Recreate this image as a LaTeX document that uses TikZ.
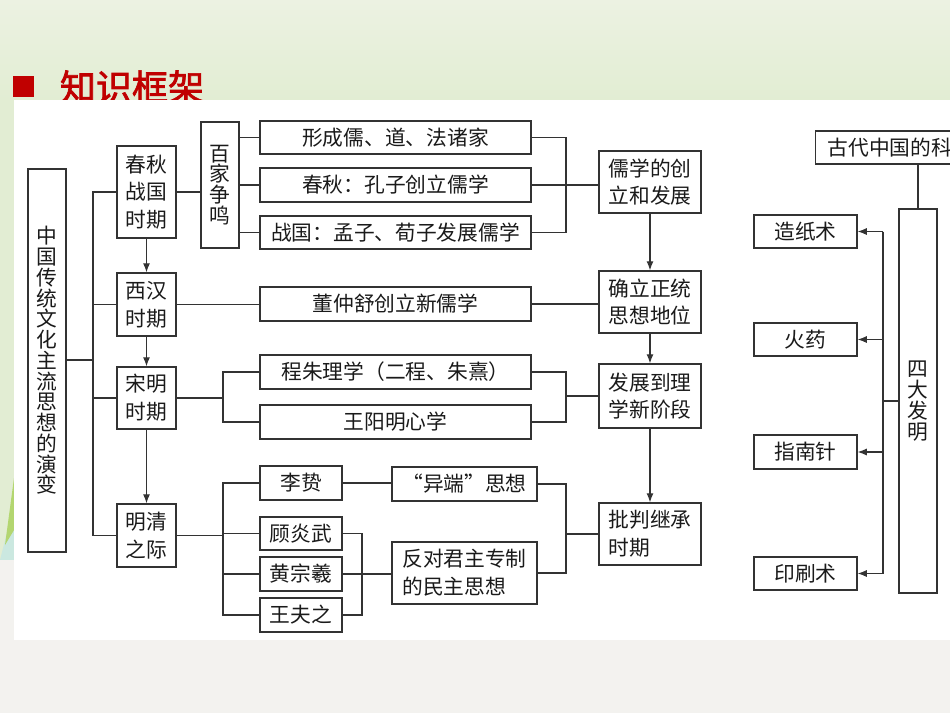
\documentclass[tikz,border=0pt]{standalone}
\usepackage{fontspec}
\newfontfamily\cjk{Noto Sans CJK SC}
\newfontfamily\cjktitle[FakeBold=2]{Noto Sans CJK SC}
\usetikzlibrary{arrows.meta}

\definecolor{linec}{HTML}{333333}
\definecolor{txtc}{HTML}{1A1A1A}
\definecolor{titlered}{HTML}{C00000}
\definecolor{bgtop}{HTML}{ECF2E2}
\definecolor{bgmid}{HTML}{E2EDD3}
\definecolor{bggray}{HTML}{F3F2EF}
\definecolor{leafgreen}{HTML}{B3D670}
\definecolor{leafteal}{HTML}{CBE8E0}

\newcommand\cjksize[2]{\cjk\fontsize{#1}{#2}\selectfont\lineskiplimit=-20pt\relax\lineskip=0pt\relax}

\tikzset{
  bx/.style 2 args={draw=linec, line width=0.7pt, inner sep=0pt, text=txtc,
    minimum width={#1*0.02cm}, minimum height={#2*0.02cm}, align=center,
    font=\cjksize{11.8}{15.8}},
  vbx/.style 2 args={bx={#1}{#2}, font=\cjksize{11.8}{11.9}},
  ln/.style={draw=linec, line width=0.7pt},
  arr/.style={ln, -{Latex[length=5.2pt,width=4pt]}},
}

\begin{document}
\begin{tikzpicture}[x=0.02cm, y=-0.02cm]
\useasboundingbox (0,0) rectangle (950,713);
\clip (0,0) rectangle (950,713);

% slide background
\shade[top color=bgtop, bottom color=bgmid] (0,0) rectangle (950,100);
\fill[bgmid] (0,100) rectangle (14,560);
\fill[leafteal] (0,560) -- (14,505) -- (14,562) -- cycle;
\fill[leafgreen] (5,545) -- (14,478) -- (14,530) -- cycle;
\fill[bggray] (0,560) rectangle (14,713);
\fill[titlered] (13,76) rectangle (34,97);
\node[text=titlered, font=\cjktitle\fontsize{20.5}{20.5}\selectfont] (title) at (132,87) {知识框架};
\fill[white] (14,100) rectangle (950,640);
\fill[bggray] (14,640) rectangle (950,713);

% left tree
\node[vbx={38}{383}, font=\cjksize{11.8}{11.8}] (main) at (47,360.5)
  {中\\国\\传\\统\\文\\化\\主\\流\\思\\想\\的\\演\\变};
\coordinate (tk) at (93,360);

\node[bx={59}{92}] (cq) at (146.5,192) {春秋\\战国\\时期};
\node[bx={59}{63}] (xh) at (146.5,304.5) {西汉\\时期};
\node[bx={59}{62}] (sm) at (146.5,398) {宋明\\时期};
\node[bx={59}{63}] (mq) at (146.5,535.5) {明清\\之际};

\node[vbx={38}{126}] (bj) at (220,185) {百\\家\\争\\鸣};
\node[bx={271}{33}] (xc) at (395.5,137.5) {形成儒、道、法诸家};
\node[bx={271}{34}] (cqk) at (395.5,185) {春秋：孔子创立儒学};
\node[bx={271}{33}] (zgm) at (395.5,232.5) {战国：孟子、荀子发展儒学};
\node[bx={271}{34}] (dzs) at (395.5,304) {董仲舒创立新儒学};
\node[bx={271}{34}] (czl) at (395.5,372) {程朱理学（二程、朱熹）};
\node[bx={271}{34}] (wym) at (395.5,422) {王阳明心学};

\node[bx={82}{34}] (lz) at (301,483) {李贽};
\node[bx={82}{33}] (gyw) at (301,533.5) {顾炎武};
\node[bx={82}{34}] (hzx) at (301,574) {黄宗羲};
\node[bx={82}{34}] (wfz) at (301,615) {王夫之};
\node[bx={145}{34}] (yd) at (464.5,484) {“异端”思想};
\node[bx={145}{62}, align=left] (fd) at (464.5,573) {反对君主专制\\的民主思想};

\node[bx={102}{62}] (rx) at (650,182) {儒学的创\\立和发展};
\node[bx={102}{62}] (ql) at (650,302) {确立正统\\思想地位};
\node[bx={102}{64}] (fz) at (650,396) {发展到理\\学新阶段};
\node[bx={102}{62}, align=left] (pp) at (650,534) {批判继承\\时期};

\coordinate (lk) at (223,398);
\coordinate (mk) at (362,574);
\coordinate (rk) at (566,300);

\draw[ln] (main.east |- tk) -- (tk);
\draw[ln] (cq.west) -- (cq.west -| tk) -- (mq.west -| tk) -- (mq.west);
\draw[ln] (xh.west) -- (xh.west -| tk);
\draw[ln] (sm.west) -- (sm.west -| tk);

\draw[arr] (cq) -- (xh);
\draw[arr] (xh) -- (sm);
\draw[arr] (sm) -- (mq);

\draw[ln] (cq.east) -- (cq.east -| bj.west);
\draw[ln] (bj.east |- xc.west) -- (xc.west);
\draw[ln] (bj.east |- cqk.west) -- (cqk.west);
\draw[ln] (bj.east |- zgm.west) -- (zgm.west);
\draw[ln] (xc.east) -- (xc.east -| rk) -- (zgm.east -| rk) -- (zgm.east);
\draw[ln] (cqk.east) -- (rx.west |- cqk.east);

\draw[ln] (xh.east) -- (xh.east -| dzs.west);
\draw[ln] (dzs.east) -- (ql.west |- dzs.east);

\draw[ln] (sm.east) -- (sm.east -| lk);
\draw[ln] (czl.west) -- (czl.west -| lk) -- (wym.west -| lk) -- (wym.west);
\draw[ln] (czl.east) -- (czl.east -| rk) -- (wym.east -| rk) -- (wym.east);
\draw[ln] (fz.west) -- (fz.west -| rk);

\draw[ln] (mq.east) -- (mq.east -| lk);
\draw[ln] (lz.west) -- (lz.west -| lk) -- (wfz.west -| lk) -- (wfz.west);
\draw[ln] (gyw.west -| lk) -- (gyw.west);
\draw[ln] (hzx.west -| lk) -- (hzx.west);
\draw[ln] (lz.east) -- (yd.west |- lz.east);
\draw[ln] (gyw.east) -- (gyw.east -| mk) -- (wfz.east -| mk) -- (wfz.east);
\draw[ln] (hzx.east) -- (fd.west |- hzx.east);
\draw[ln] (yd.east) -- (yd.east -| rk) -- (fd.east -| rk) -- (fd.east);
\draw[ln] (pp.west) -- (pp.west -| rk);

\draw[arr] (rx) -- (ql);
\draw[arr] (ql) -- (fz);
\draw[arr] (fz) -- (pp);

% four inventions
\node[bx={200}{33}, anchor=west, inner xsep={12*0.02cm}, text width={176*0.02cm}, align=left] (gd) at (815,147.5) {古代中国的科};
\node[vbx={38}{384}] (sd) at (918,401) {四\\大\\发\\明};
\node[bx={103}{33}] (zzs) at (805.5,231.5) {造纸术};
\node[bx={103}{33}] (hy) at (805.5,339.5) {火药};
\node[bx={103}{34}] (znz) at (805.5,452) {指南针};
\node[bx={103}{33}] (ysz) at (805.5,573.5) {印刷术};
\coordinate (ak) at (883,400);

\draw[ln] (sd.north |- gd.south) -- (sd.north);
\draw[ln] (sd.west) -- (sd.west -| ak);
\draw[ln] (zzs.east -| ak) -- (ysz.east -| ak);
\draw[arr] (zzs.east -| ak) -- (zzs.east);
\draw[arr] (hy.east -| ak) -- (hy.east);
\draw[arr] (znz.east -| ak) -- (znz.east);
\draw[arr] (ysz.east -| ak) -- (ysz.east);
\end{tikzpicture}
\end{document}
